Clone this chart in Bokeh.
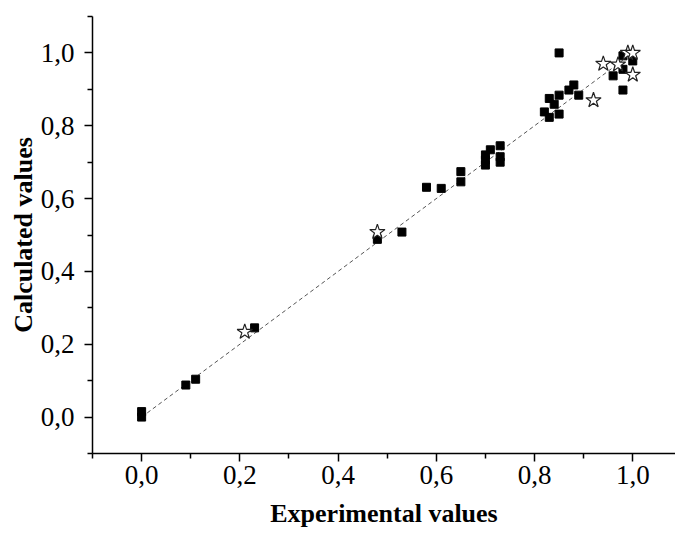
from bokeh.plotting import figure
from bokeh.models import FixedTicker, CustomJSTickFormatter, Range1d
from bokeh.embed import file_html
from bokeh.resources import INLINE

# Filled squares (experimental vs calculated)
sq_x = [0.00, 0.00, 0.09, 0.11, 0.23, 0.48, 0.53, 0.58, 0.61, 0.65, 0.65,
        0.70, 0.70, 0.70, 0.71, 0.73, 0.73, 0.73, 0.82, 0.83, 0.83, 0.84,
        0.85, 0.85, 0.85, 0.87, 0.88, 0.89, 0.96, 0.98, 0.98, 0.98, 1.00]
sq_y = [0.000, 0.015, 0.088, 0.104, 0.245, 0.488, 0.508, 0.631, 0.628, 0.674, 0.646,
        0.720, 0.706, 0.692, 0.734, 0.745, 0.715, 0.700, 0.838, 0.823, 0.875, 0.859,
        0.832, 0.884, 1.000, 0.898, 0.912, 0.884, 0.937, 0.955, 0.992, 0.898, 0.978]

# Open stars
st_x = [0.21, 0.48, 0.92, 0.94, 0.97, 0.99, 1.00, 1.00]
st_y = [0.234, 0.508, 0.870, 0.970, 0.968, 1.000, 1.000, 0.940]

# Diagonal reference line
line_x = [0.0, 1.0]
line_y = [0.0, 1.0]

major_ticks = [0.0, 0.2, 0.4, 0.6, 0.8, 1.0]
minor_ticks = [-0.1, 0.1, 0.3, 0.5, 0.7, 0.9, 1.1]

X_TITLE = "Experimental values"
Y_TITLE = "Calculated values"

FONT = "Liberation Serif"

p = figure(width=675, height=533, output_backend="svg", toolbar_location=None,
           x_range=Range1d(-0.1, 1.087), y_range=Range1d(-0.1, 1.1),
           min_border_left=92, min_border_right=0, min_border_top=16, min_border_bottom=80)
p.outline_line_color = None
p.xgrid.visible = False
p.ygrid.visible = False
p.background_fill_color = "white"
p.border_fill_color = "white"

p.line(line_x, line_y, line_color="#555555", line_width=1, line_dash="4 3")
p.scatter(sq_x, sq_y, marker="square", size=8, fill_color="black", line_color="black")
p.scatter(st_x, st_y, marker="star", size=16, fill_color="white", line_color="#222222",
          line_width=1.2)

fmt = CustomJSTickFormatter(code="return tick.toFixed(1).replace('.', ',');")
for ax in (p.xaxis[0], p.yaxis[0]):
    ax.ticker = FixedTicker(ticks=major_ticks, minor_ticks=minor_ticks)
    ax.formatter = fmt
    ax.axis_line_width = 1.5
    ax.major_tick_line_width = 1.5
    ax.minor_tick_line_width = 1.5
    ax.major_tick_in = 0
    ax.major_tick_out = 8
    ax.minor_tick_in = 0
    ax.minor_tick_out = 5
    ax.major_label_text_font = FONT
    ax.major_label_text_font_size = "27px"
    ax.major_label_text_color = "black"
    ax.axis_label_text_font = FONT
    ax.axis_label_text_font_style = "bold"
    ax.axis_label_text_font_size = "26px"
    ax.axis_label_text_color = "black"

p.xaxis.axis_label = X_TITLE
p.yaxis.axis_label = Y_TITLE
p.xaxis.major_label_standoff = 4
p.yaxis.major_label_standoff = 10
p.xaxis.axis_label_standoff = 12
p.yaxis.axis_label_standoff = 0

open("out.html", "w").write(file_html(p, INLINE))
